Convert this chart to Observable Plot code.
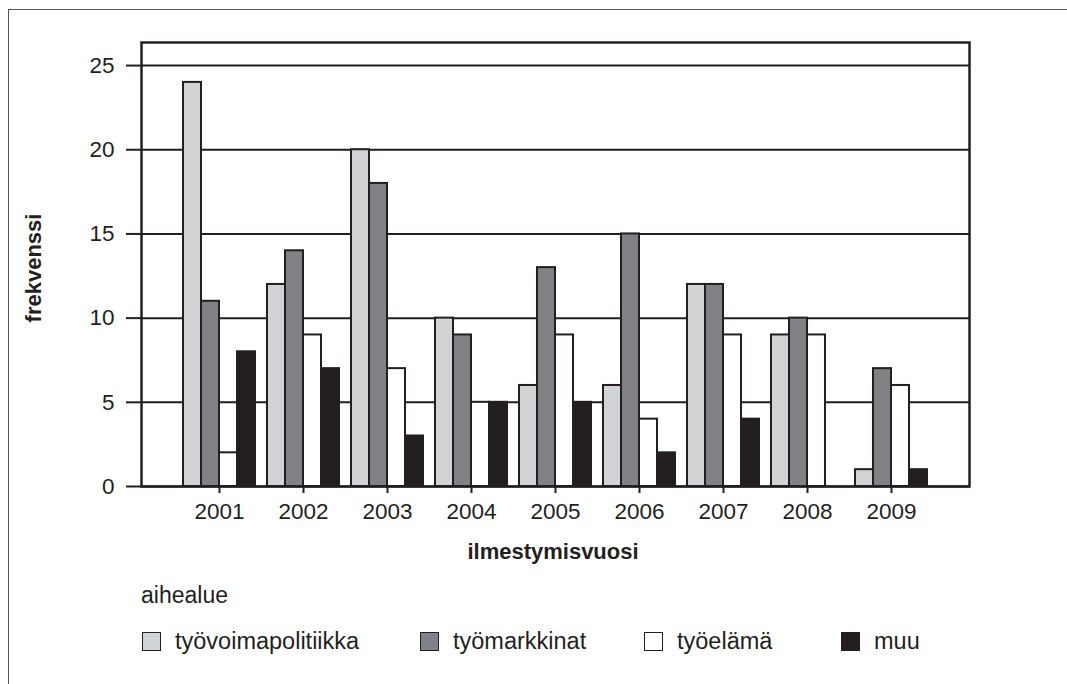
<!DOCTYPE html>
<html>
<head>
<meta charset="utf-8">
<script src="https://cdn.jsdelivr.net/npm/d3@7"></script>
<script src="https://cdn.jsdelivr.net/npm/@observablehq/plot@0.6"></script>
<style>
  html, body { margin: 0; padding: 0; background: #fff; }
  #wrap { position: relative; width: 1067px; height: 684px; overflow: hidden; font-family: "Liberation Sans", Arial, sans-serif; color: #231f20; }
  #border { position: absolute; left: 8px; top: 9px; width: 1100px; height: 700px; border-top: 1.5px solid #555; border-left: 1.5px solid #555; }
  #chart { position: absolute; left: 0; top: 0; }
  .lbl { position: absolute; font-size: 23px; white-space: nowrap; line-height: 1; }
  .bold { font-weight: bold; }
  #ylabel { left: 34px; top: 268px; transform: translate(-50%, -50%) rotate(-90deg); font-size: 22px; }
  #xlabel { left: 553px; top: 541px; transform: translateX(-50%); font-size: 22px; }
  #legtitle { left: 141px; top: 584px; }
  .item { position: absolute; top: 630px; display: flex; align-items: center; font-size: 23.5px; line-height: 1; }
  .sw { width: 17px; height: 17px; border: 1.5px solid #231f20; margin-right: 14px; }
</style>
</head>
<body>
<div id="wrap">
  <div id="border"></div>
  <div id="chart"></div>
  <div class="lbl bold" id="ylabel">frekvenssi</div>
  <div class="lbl bold" id="xlabel">ilmestymisvuosi</div>
  <div class="lbl" id="legtitle">aihealue</div>
  <div id="legend"></div>
</div>
<script>
const years = ["2001","2002","2003","2004","2005","2006","2007","2008","2009"];
const series = ["työvoimapolitiikka","työmarkkinat","työelämä","muu"];
const tyovoimapolitiikka = [24, 12, 20, 10, 6, 6, 12, 9, 1];
const tyomarkkinat       = [11, 14, 18, 9, 13, 15, 12, 10, 7];
const tyoelama           = [2, 9, 7, 5, 9, 4, 9, 9, 6];
const muu                = [8, 7, 3, 5, 5, 2, 4, 0, 1];
const yTicks = [0, 5, 10, 15, 20, 25];
const colors = ["#d1d3d4", "#808285", "#ffffff", "#231f20"];
const legendX = [142, 420, 644, 841];

const values = [tyovoimapolitiikka, tyomarkkinat, tyoelama, muu];
const data = [];
series.forEach((s, i) => years.forEach((y, j) => data.push({year: y, series: s, value: values[i][j]})));

const barW = 18;
const barMarks = series.map((s, i) => Plot.barY(data.filter(d => d.series === s && d.value > 0), {
  x: "year", y: "value",
  fill: colors[i], stroke: "#231f20", strokeWidth: 2,
  insetLeft: barW * i, insetRight: barW * (3 - i)
}));

const chart = Plot.plot({
  width: 1067, height: 580,
  marginLeft: 141, marginRight: 98, marginTop: 42, marginBottom: 94,
  style: {fontFamily: "'Liberation Sans', Arial, sans-serif", fontSize: "22.5px", color: "#231f20", background: "transparent"},
  x: {type: "band", domain: years, paddingInner: 0.145, paddingOuter: 0.486},
  y: {domain: [0, 26.37]},
  marks: [
    Plot.ruleY(yTicks, {stroke: "#231f20", strokeWidth: 2}),
    ...barMarks,
    Plot.frame({stroke: "#231f20", strokeWidth: 2.5}),
    Plot.axisY({ticks: yTicks, tickSize: 15, tickPadding: 12, label: null, stroke: "#231f20", strokeWidth: 2, fontSize: 22.5}),
    Plot.axisX({tickSize: 7, tickPadding: 10, label: null, stroke: "#231f20", strokeWidth: 2, fontSize: 22.5})
  ]
});
document.getElementById("chart").appendChild(chart);

const leg = document.getElementById("legend");
series.forEach((s, i) => {
  const it = document.createElement("div");
  it.className = "item";
  it.style.left = legendX[i] + "px";
  const sw = document.createElement("div");
  sw.className = "sw";
  sw.style.background = colors[i];
  const t = document.createElement("span");
  t.textContent = s;
  it.appendChild(sw); it.appendChild(t);
  leg.appendChild(it);
});
</script>
</body>
</html>
